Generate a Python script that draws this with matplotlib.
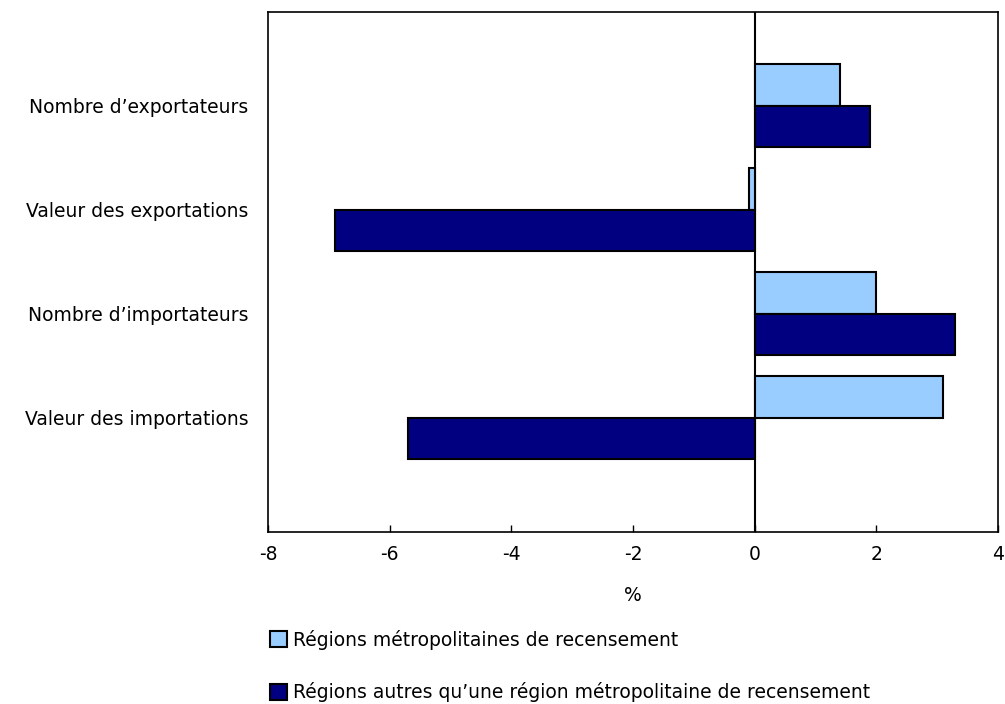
import matplotlib
matplotlib.use("Agg")
import matplotlib.pyplot as plt
from matplotlib.patches import Patch

categories = ["Nombre d\u2019exportateurs", "Valeur des exportations",
              "Nombre d\u2019importateurs", "Valeur des importations"]
series_names = ["R\u00e9gions m\u00e9tropolitaines de recensement",
                "R\u00e9gions autres qu\u2019une r\u00e9gion m\u00e9tropolitaine de recensement"]
metro = [1.4, -0.1, 2.0, 3.1]
non_metro = [1.9, -6.9, 3.3, -5.7]
xticks = [-8, -6, -4, -2, 0, 2, 4]

light = "#99ccff"
dark = "#000080"

plt.rcParams['font.family'] = ['DejaVu Sans']
fs = 13.5
fig = plt.figure(figsize=(10.05, 7.04), dpi=100)
ax = fig.add_axes([268/1005, (704-532)/704, 730/1005, 520/704])

pos = list(range(len(categories)))
h = 0.4
ax.barh([p - h/2 for p in pos], metro, height=h, color=light, edgecolor="black", linewidth=1.5)
ax.barh([p + h/2 for p in pos], non_metro, height=h, color=dark, edgecolor="black", linewidth=1.5)

ax.axvline(0, color="black", linewidth=1.5, zorder=0.5)
ax.set_xlim(-8, 4)
ax.set_ylim(3 + 1.1, -0.9)
ax.set_xticks(xticks)
ax.set_xticklabels([str(t) for t in xticks], fontsize=fs, family="DejaVu Sans")
ax.set_yticks(pos)
ax.set_yticklabels(categories, fontsize=fs, family="DejaVu Sans")
ax.tick_params(axis="x", direction="in", length=5, width=1, pad=9)
ax.tick_params(axis="y", length=0, pad=14)
for s in ax.spines.values():
    s.set_linewidth(1.2)
ax.set_xlabel("%", fontsize=fs, labelpad=16, family="DejaVu Sans")

handles = [Patch(facecolor=light, edgecolor="black", linewidth=1.5),
           Patch(facecolor=dark, edgecolor="black", linewidth=1.5)]
fig.legend(handles, series_names, loc="upper left", bbox_to_anchor=(262/1005, 1 - 622/704),
           frameon=False, prop={"family": "DejaVu Sans", "size": fs},
           handlelength=0.95, handleheight=0.95,
           handletextpad=0.3, labelspacing=1.75, borderaxespad=0)

fig.savefig("out.png", dpi=100)
